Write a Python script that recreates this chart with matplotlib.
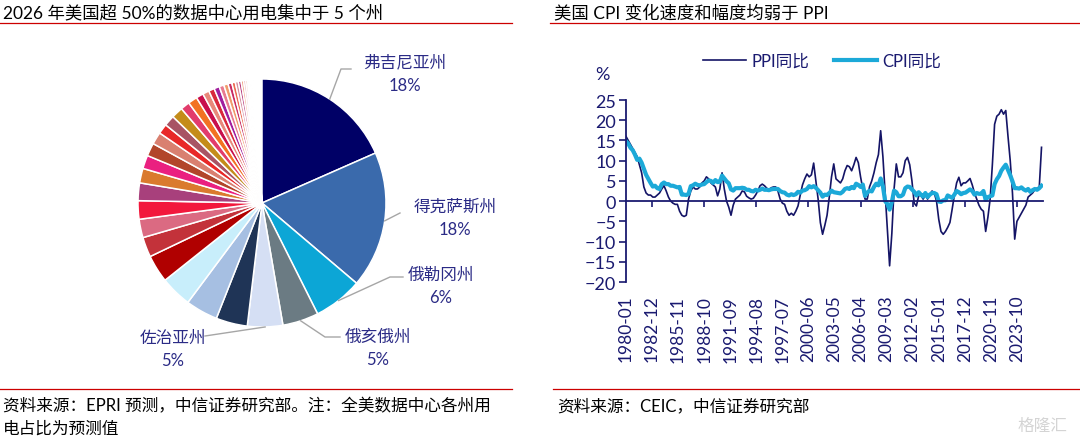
import numpy as np
import matplotlib
matplotlib.use("Agg")
import matplotlib.pyplot as plt
from matplotlib.lines import Line2D
from matplotlib.transforms import blended_transform_factory

plt.rcParams['font.family'] = ['Lato', 'Noto Sans CJK SC', 'DejaVu Sans']

W, H = 1080, 439

# ---- left panel: 2026E share of US data center power use by state (%)
state_names = ['弗吉尼亚州', '得克萨斯州', '俄勒冈州', '俄亥俄州', '佐治亚州']
state_share = [18.4, 17.8, 6.4, 4.7, 4.6]
other_share = [4.1, 4.2, 4.1, 3.6, 2.6, 2.4, 2.4, 2.3, 1.9, 1.75, 1.7, 1.6,
               1.3, 1.4, 1.5, 1.2, 1.2,
               0.95, 0.85, 0.75, 0.7, 0.62, 0.56, 0.5, 0.45, 0.4, 0.36, 0.32,
               0.28, 0.24, 0.2, 0.17, 0.14, 0.11, 0.09]
state_colors = ['#000066', '#3A6AAC', '#0CA6D6', '#6B7B83', '#D5DFF4']
other_colors = ['#1F3456', '#A6BFE2', '#C8EEFB', '#B00000', '#C3323A', '#DB6A82',
                '#F2183C', '#A8407C', '#DA7A2E', '#EA2080', '#B2462A', '#D98070',
                '#E82828', '#A85464', '#C48C1A', '#E23C6C', '#F27222',
                '#C8104C', '#E8887A', '#D8283C', '#A01E9E', '#E87A90', '#F09A6A',
                '#C82A62', '#EC6A50', '#D890A0', '#B83A7A', '#F0A080', '#E8B0B8',
                '#F0B0A0', '#E8C0C8', '#F0C8C0', '#F4D4DC', '#F6E0E4', '#F8E8EC']

# ---- right panel: US PPI / CPI yoy (%), quarterly readings Jan/Apr/Jul/Oct
ppi_yoy = [
    16.0, 15.0, 14.0, 13.0,     # 1980
    12.0, 11.0, 9.0, 7.0,       # 1981
    3.5, 2.0, 1.5, 1.5,         # 1982
    1.0, 1.0, 1.5, 2.0,         # 1983
    3.0, 3.8, 2.5, 1.0,         # 1984
    0.0, -0.5, -0.8, -0.8,      # 1985
    -2.5, -3.5, -3.8, -3.5,     # 1986
    0.5, 2.5, 3.5, 3.0,         # 1987
    3.0, 3.5, 4.5, 5.0,         # 1988
    6.0, 5.5, 4.5, 4.0,         # 1989
    3.5, 1.3, 3.0, 7.0,         # 1990
    3.0, 0.0, -1.5, -3.5,       # 1991
    -1.0, 0.5, 1.0, 1.5,        # 1992
    2.5, 2.3, 1.2, 0.8,         # 1993
    0.5, 0.7, 1.5, 2.5,         # 1994
    3.8, 4.2, 3.8, 3.2,         # 1995
    2.8, 3.3, 3.5, 3.5,         # 1996
    2.5, 0.5, -0.5, -0.8,       # 1997
    -2.5, -3.5, -3.0, -3.5,     # 1998
    -2.5, -1.2, 1.5, 4.0,       # 1999
    5.5, 6.7, 6.0, 6.5,         # 2000
    9.4, 5.0, 0.5, -5.3,        # 2001
    -8.2, -6.0, -3.5, 1.0,      # 2002
    6.0, 9.2, 5.5, 5.0,         # 2003
    4.5, 5.5, 7.5, 8.8,         # 2004
    8.5, 7.5, 9.0, 10.8,        # 2005
    9.5, 6.0, 3.0, 0.5,         # 2006
    0.5, 3.5, 5.0, 7.0,         # 2007
    9.5, 11.5, 17.4, 11.0,      # 2008
    2.0, -7.0, -16.0, -8.0,     # 2009
    3.0, 9.2, 6.0, 6.0,         # 2010
    7.0, 10.0, 10.8, 9.0,       # 2011
    5.0, -0.5, -1.2, 1.3,       # 2012
    1.5, 0.5, 1.5, 0.5,         # 2013
    1.5, 2.5, 2.0, 0.0,         # 2014
    -4.5, -7.5, -8.2, -7.5,     # 2015
    -6.5, -5.3, -2.0, 1.5,      # 2016
    4.5, 5.9, 3.8, 4.5,         # 2017
    4.5, 5.0, 5.6, 4.0,         # 2018
    2.0, 0.5, -1.0, -2.0,       # 2019
    -2.5, -7.5, -4.0, 0.5,      # 2020
    9.0, 19.0, 21.0, 21.5,      # 2021
    22.6, 21.5, 22.4, 16.0,     # 2022
    10.0, 2.0, -9.4, -5.0,      # 2023
    -4.0, -3.0, -2.0, -1.0,     # 2024
    1.0, 1.5, 2.0, 2.8,         # 2025
    3.2, 3.5, 13.3,             # 2026
]
cpi_yoy = [
    14.8, 14.2, 13.2, 12.6,     # 1980
    11.5, 10.2, 10.5, 9.5,      # 1981
    8.0, 6.5, 5.5, 4.5,         # 1982
    3.6, 3.8, 3.2, 3.0,         # 1983
    4.2, 4.6, 4.2, 4.2,         # 1984
    3.8, 3.8, 3.6, 3.4,         # 1985
    3.5, 1.6, 1.6, 1.5,         # 1986
    1.8, 3.7, 3.9, 4.3,         # 1987
    4.0, 3.9, 4.1, 4.2,         # 1988
    4.7, 5.1, 5.0, 4.5,         # 1989
    5.2, 4.7, 4.8, 6.3,         # 1990
    5.6, 4.9, 4.4, 2.9,         # 1991
    2.6, 3.2, 3.2, 3.2,         # 1992
    3.3, 3.2, 2.8, 2.8,         # 1993
    2.5, 2.4, 2.8, 2.6,         # 1994
    2.8, 3.1, 2.8, 2.8,         # 1995
    2.7, 2.9, 3.0, 3.0,         # 1996
    3.0, 2.5, 2.2, 2.1,         # 1997
    1.6, 1.4, 1.7, 1.5,         # 1998
    1.7, 2.3, 2.1, 2.6,         # 1999
    2.7, 3.0, 3.7, 3.4,         # 2000
    3.7, 3.3, 2.7, 2.1,         # 2001
    1.1, 1.6, 1.5, 2.0,         # 2002
    2.6, 2.2, 2.1, 2.0,         # 2003
    1.9, 2.3, 3.0, 3.2,         # 2004
    3.0, 3.5, 3.2, 4.3,         # 2005
    4.0, 3.5, 4.1, 1.3,         # 2006
    2.1, 2.6, 2.4, 3.5,         # 2007
    4.3, 3.9, 5.6, 3.7,         # 2008
    0.0, -0.7, -2.1, -0.2,      # 2009
    2.6, 2.2, 1.2, 1.2,         # 2010
    1.6, 3.2, 3.6, 3.5,         # 2011
    2.9, 2.3, 1.4, 2.2,         # 2012
    1.6, 1.1, 2.0, 1.0,         # 2013
    1.6, 2.0, 2.0, 1.7,         # 2014
    -0.1, -0.2, 0.2, 0.2,       # 2015
    1.4, 1.1, 0.8, 1.6,         # 2016
    2.5, 2.2, 1.7, 2.0,         # 2017
    2.1, 2.5, 2.9, 2.5,         # 2018
    1.6, 2.0, 1.8, 1.8,         # 2019
    2.5, 0.3, 1.0, 1.2,         # 2020
    1.4, 4.2, 5.4, 6.2,         # 2021
    7.5, 8.3, 9.0, 7.7,         # 2022
    6.4, 4.9, 3.2, 3.2,         # 2023
    3.1, 3.4, 2.9, 2.6,         # 2024
    3.0, 2.3, 2.7, 3.0,         # 2025
    2.8, 3.2, 3.8,              # 2026
]
x_labels = ['1980-01', '1982-12', '1985-11', '1988-10', '1991-09', '1994-08',
            '1997-07', '2000-06', '2003-05', '2006-04', '2009-03', '2012-02',
            '2015-01', '2017-12', '2020-11', '2023-10']

NAVY = '#1A1A70'
LABEL = '#2B2B86'
RED = '#CC0000'


def fx(px):
    return px / W


def fy(py):
    return 1 - py / H


def fig_line(x0, x1, y):
    fig.add_artist(Line2D([fx(x0), fx(x1)], [fy(y), fy(y)], color=RED, lw=0.9))


fig = plt.figure(figsize=(W / 100, H / 100), dpi=100)

# titles, rules, sources
fig.text(fx(3), fy(13), '2026 年美国超 50%的数据中心用电集中于 5 个州',
         fontsize=12.5, va='center', ha='left', color='black')
fig.text(fx(554), fy(13), '美国 CPI 变化速度和幅度均弱于 PPI',
         fontsize=12.5, va='center', ha='left', color='black')
fig_line(0, 512, 24)
fig_line(550, 1080, 24)
fig_line(0, 512, 390)
fig_line(553, 1080, 390)
fig.text(fx(3), fy(406), '资料来源：EPRI 预测，中信证券研究部。注：全美数据中心各州用',
         fontsize=12, va='center', ha='left', color='black')
fig.text(fx(3), fy(429), '电占比为预测值', fontsize=12, va='center', ha='left', color='black')
fig.text(fx(557), fy(406), '资料来源：CEIC，中信证券研究部',
         fontsize=12, va='center', ha='left', color='black')
fig.text(fx(1042), fy(426), '格隆汇', fontsize=12, va='center', ha='center', color='#D4D4D4')

# ---- pie
cx, cy, r = 262, 204, 124
ax1 = fig.add_axes([fx(cx - r), fy(cy + r), 2 * r / W, 2 * r / H])
vals = np.array(state_share + other_share) / 100
wedges, _ = ax1.pie(vals, colors=state_colors + other_colors, startangle=90,
                    counterclock=False, normalize=False,
                    wedgeprops=dict(edgecolor='white', linewidth=1.1))
ax1.set_xlim(-1, 1)
ax1.set_ylim(-1, 1)


def to_pie(px, py):
    return (px - cx) / r, (cy - py) / r


# leader path points (px) and text centre for the five named states
leader_pts = [[(341, 70), (351, 70)],
              [(400, 214)],
              [(390, 278), (403, 278)],
              [(325, 338), (340, 338)],
              [(205, 337)]]
text_pos = [(405, 74), (455, 218), (441, 286), (378, 348), (173, 349)]

for w, name, share, pts, tp in zip(wedges, state_names, state_share, leader_pts, text_pos):
    ang = np.deg2rad((w.theta1 + w.theta2) / 2)
    xs = [np.cos(ang)] + [to_pie(*p)[0] for p in pts]
    ys = [np.sin(ang)] + [to_pie(*p)[1] for p in pts]
    ax1.plot(xs, ys, color='#A6A6A6', lw=1, clip_on=False)
    tx, ty = to_pie(*tp)
    ax1.text(tx, ty, f'{name}\n{share:.0f}%', ha='center', va='center',
             fontsize=12, color=LABEL, linespacing=1.55, clip_on=False)

# ---- line chart
ax2 = fig.add_axes([fx(626), fy(283), (1043 - 626) / W, (283 - 101) / H])
ppi_m = np.arange(len(ppi_yoy)) * 3
cpi_m = np.arange(len(cpi_yoy)) * 3
ax2.plot(ppi_m, ppi_yoy, color='#141466', lw=1.2, label='PPI同比')
ax2.plot(cpi_m, cpi_yoy, color='#1CA9D8', lw=3.0, label='CPI同比')
ax2.set_xlim(0, 560)
ax2.set_ylim(-20, 25)
for s in ['top', 'right']:
    ax2.spines[s].set_visible(False)
ax2.spines['bottom'].set_position(('data', 0))
for s in ['bottom', 'left']:
    ax2.spines[s].set_color(NAVY)
    ax2.spines[s].set_linewidth(1.3)
ax2.set_xticks(range(35, 561, 70))
ax2.tick_params(axis='x', labelbottom=False, direction='out', length=4,
                width=1.2, color=NAVY)
ax2.set_yticks(range(-20, 26, 5))
ax2.tick_params(axis='y', labelsize=13, labelcolor=NAVY, length=5, width=1.2,
                color=NAVY, pad=2)
trans = blended_transform_factory(ax2.transData, ax2.transAxes)
for i, lab in enumerate(x_labels):
    ax2.text(i * 35, -0.07, lab, transform=trans, rotation=90, ha='center',
             va='top', fontsize=12.5, color=NAVY)
fig.text(fx(602), fy(75), '%', fontsize=13, color=NAVY, ha='center', va='center')
ax2.legend(loc='center', bbox_to_anchor=(fx(822), fy(62)),
           bbox_transform=fig.transFigure, ncol=2, frameon=False, fontsize=12,
           handlelength=2.6, handletextpad=0.3, columnspacing=1.5,
           labelcolor=NAVY)

fig.savefig('out.png', dpi=100)
